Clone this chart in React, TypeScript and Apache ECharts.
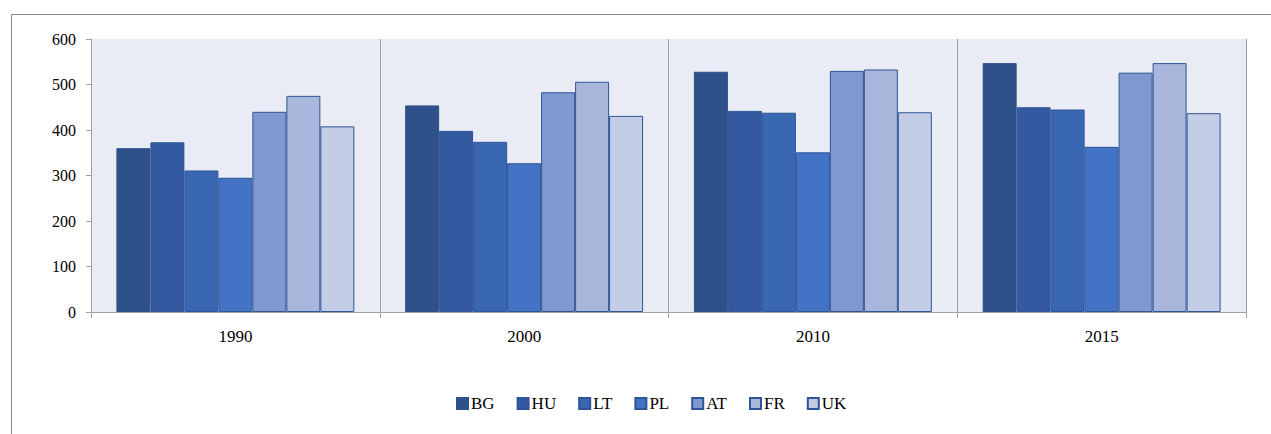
import React, { useEffect, useRef } from "react";
import * as echarts from "echarts";

const years = ["1990", "2000", "2010", "2015"];
const countries = ["BG", "HU", "LT", "PL", "AT", "FR", "UK"];
const BG = [360, 454, 528, 547];
const HU = [373, 398, 442, 450];
const LT = [311, 374, 438, 445];
const PL = [295, 327, 351, 363];
const AT = [440, 483, 530, 526];
const FR = [475, 506, 533, 547];
const UK = [408, 431, 439, 437];
const seriesValues = [BG, HU, LT, PL, AT, FR, UK];
const colors = ["#2F5189", "#335AA0", "#3A67B1", "#4373C5", "#8098D0", "#A8B6DB", "#C3CDE5"];
const borders = ["#2F5189", "#2F5597", "#2F5597", "#2F5597", "#2F5597", "#2F5597", "#2F5597"];

const SERIF = "'Liberation Serif', 'Times New Roman', serif";

export default function App() {
  const ref = useRef<HTMLDivElement>(null);
  useEffect(() => {
    const chart = echarts.init(ref.current!, null, { renderer: "svg" });
    chart.setOption({
      animation: false,
      textStyle: { fontFamily: SERIF },
      graphic: [
        {
          type: "rect",
          shape: { x: 11.5, y: 14.5, width: 1262, height: 440 },
          style: { fill: "none", stroke: "#8C8C8C", lineWidth: 1 },
          silent: true,
        },
      ],
      grid: {
        left: 91,
        right: 25,
        top: 39,
        bottom: 122,
        show: true,
        backgroundColor: "#E9EBF5",
        borderWidth: 0,
      },
      legend: {
        data: countries,
        bottom: 17,
        left: 451,
        itemWidth: 11,
        itemHeight: 11,
        itemGap: 22,
        icon: "rect",
        textStyle: { fontFamily: SERIF, fontSize: 17, color: "#000", padding: [0, 0, 0, -2] },
      },
      xAxis: {
        type: "category",
        data: years,
        axisLine: { lineStyle: { color: "#A0A0A0", width: 1 } },
        axisTick: { show: true, length: 6, lineStyle: { color: "#A0A0A0" } },
        splitLine: { show: true, lineStyle: { color: "#A0A0A0", width: 1 } },
        axisLabel: { color: "#000", fontSize: 17, margin: 16, fontFamily: SERIF },
      },
      yAxis: {
        type: "value",
        min: 0,
        max: 600,
        interval: 100,
        axisLine: { show: true, lineStyle: { color: "#A0A0A0", width: 1 } },
        axisTick: { show: true, length: 5, lineStyle: { color: "#A0A0A0" } },
        splitLine: { show: false },
        axisLabel: { color: "#000", fontSize: 16, margin: 15, fontFamily: SERIF },
      },
      series: countries.map((c, i) => ({
        name: c,
        type: "bar",
        data: seriesValues[i],
        barGap: "0%",
        barCategoryGap: "17.6%",
        itemStyle: { color: colors[i], borderColor: borders[i], borderWidth: 1 },
      })),
    });
    return () => chart.dispose();
  }, []);
  return (
    <div
      ref={ref}
      style={{ position: "fixed", left: 0, top: 0, width: 1271, height: 434, background: "#fff" }}
    />
  );
}
